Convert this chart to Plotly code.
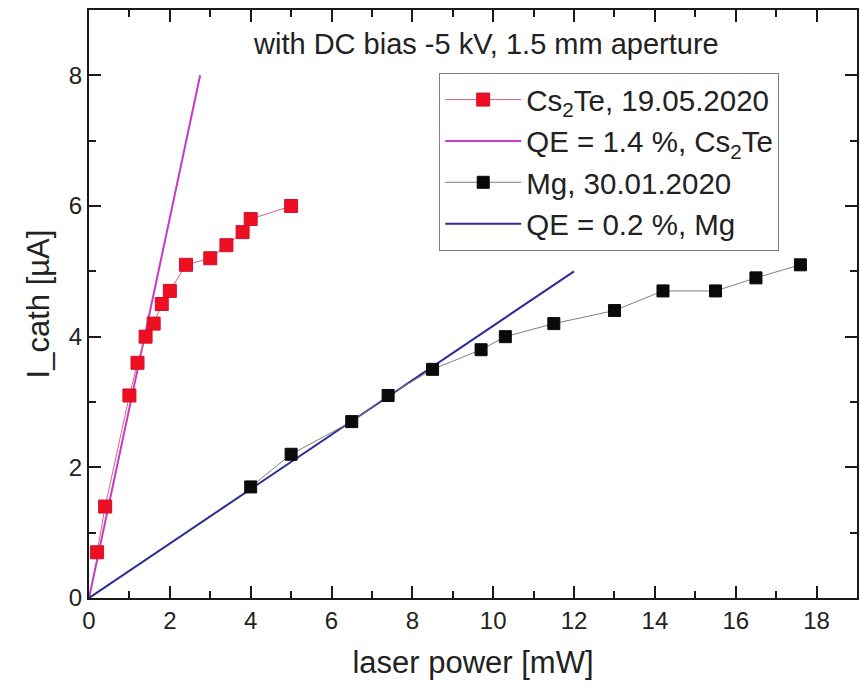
import plotly.graph_objects as go

# Cs2Te measurement (19.05.2020)
cs_power = [0.2, 0.4, 1.0, 1.2, 1.4, 1.6, 1.8, 2.0, 2.4, 3.0, 3.4, 3.8, 4.0, 5.0]
cs_current = [0.7, 1.4, 3.1, 3.6, 4.0, 4.2, 4.5, 4.7, 5.1, 5.2, 5.4, 5.6, 5.8, 6.0]

# QE = 1.4 % line, Cs2Te
qe_cs_power = [0.0, 2.75]
qe_cs_current = [0.0, 8.0]

# Mg measurement (30.01.2020)
mg_power = [4.0, 5.0, 6.5, 7.4, 8.5, 9.7, 10.3, 11.5, 13.0, 14.2, 15.5, 16.5, 17.6]
mg_current = [1.7, 2.2, 2.7, 3.1, 3.5, 3.8, 4.0, 4.2, 4.4, 4.7, 4.7, 4.9, 5.1]

# QE = 0.2 % line, Mg
qe_mg_power = [0.0, 12.0]
qe_mg_current = [0.0, 5.0]

x_ticks = [0, 2, 4, 6, 8, 10, 12, 14, 16, 18]
y_ticks = [0, 2, 4, 6, 8]

FONT = "Liberation Sans, Arial, sans-serif"

fig = go.Figure()

# fit lines first (drawn beneath the data markers)
fig.add_trace(go.Scatter(
    x=qe_cs_power, y=qe_cs_current, mode="lines",
    name="QE = 1.4 %, Cs<sub>2</sub>Te", legendrank=2,
    line=dict(color="#c43cc4", width=2),
))
fig.add_trace(go.Scatter(
    x=qe_mg_power, y=qe_mg_current, mode="lines",
    name="QE = 0.2 %, Mg", legendrank=4,
    line=dict(color="#2c2c94", width=2),
))
fig.add_trace(go.Scatter(
    x=cs_power, y=cs_current, mode="lines+markers",
    name="Cs<sub>2</sub>Te, 19.05.2020", legendrank=1,
    line=dict(color="#e0607a", width=1),
    marker=dict(symbol="square", size=13, color="#ee1020",
                line=dict(color="#d01030", width=1)),
))
fig.add_trace(go.Scatter(
    x=mg_power, y=mg_current, mode="lines+markers",
    name="Mg, 30.01.2020", legendrank=3,
    line=dict(color="#808080", width=1),
    marker=dict(symbol="square", size=12, color="#0a0a0a",
                line=dict(color="#0a0a0a", width=1)),
))

axis_common = dict(
    showline=True, linecolor="#1a1a1a", linewidth=2, mirror="allticks",
    ticks="inside", ticklen=12, tickwidth=2, tickcolor="#1a1a1a",
    showgrid=False, zeroline=False,
    tickfont=dict(family=FONT, size=24, color="#222222"),
    title_font=dict(family=FONT, size=31, color="#222222"),
)

fig.update_xaxes(
    range=[0, 19], tickvals=x_ticks, ticktext=[str(v) for v in x_ticks],
    minor=dict(dtick=1, ticks="inside", ticklen=7, tickwidth=2, tickcolor="#1a1a1a", tick0=0),
    title_text="laser power [mW]", title_standoff=19,
    **axis_common,
)
fig.update_yaxes(
    range=[0, 9], tickvals=y_ticks, ticktext=[str(v) for v in y_ticks],
    minor=dict(dtick=1, ticks="inside", ticklen=7, tickwidth=2, tickcolor="#1a1a1a", tick0=0),
    title_text="I_cath [µA]", title_standoff=10,
    **axis_common,
)

fig.add_annotation(
    text="with DC bias -5 kV, 1.5 mm aperture",
    xref="paper", yref="paper", x=0.517, y=0.972, xanchor="center", yanchor="top",
    showarrow=False, font=dict(family=FONT, size=29, color="#222222"),
)

fig.update_layout(
    width=861, height=685,
    margin=dict(l=89, r=2, t=10, b=87),
    paper_bgcolor="white", plot_bgcolor="white",
    showlegend=True,
    legend=dict(
        x=0.456, y=0.893, xanchor="left", yanchor="top",
        traceorder="normal",
        bgcolor="white", bordercolor="#808080", borderwidth=1,
        font=dict(family=FONT, size=29.5, color="#222222"),
        itemwidth=76,
    ),
    font=dict(family=FONT),
)

fig.write_html("out.html")
